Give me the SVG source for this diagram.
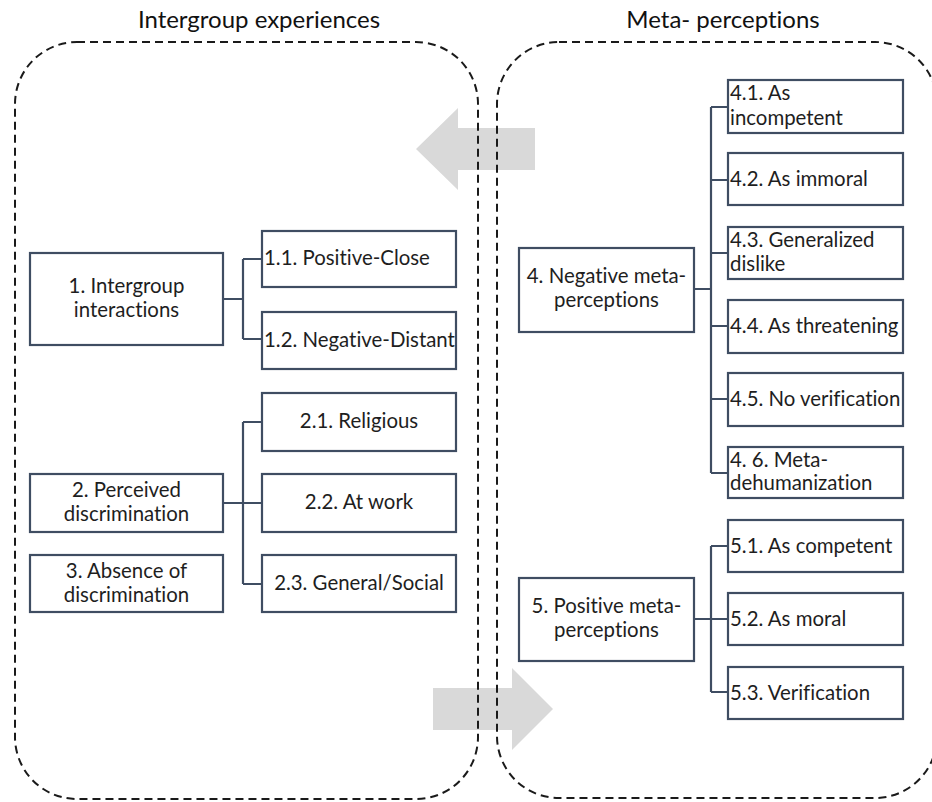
<svg xmlns="http://www.w3.org/2000/svg" width="932" height="802" viewBox="0 0 932 802">
<style>
.bg{fill:#ffffff}
.arrow{fill:#d9d9d9}
.frame{fill:none;stroke:#1a1a1a;stroke-width:2;stroke-dasharray:8 5}
.box{fill:#ffffff;stroke:#3f4d62;stroke-width:2.2}
.conn{fill:none;stroke:#3f4d62;stroke-width:2.2}
.t{font-family:Lato,"Liberation Sans",sans-serif;font-size:20.4px;fill:#1e1e1e;font-variant-ligatures:none}
.c{text-anchor:middle}
.title{font-family:Lato,"Liberation Sans",sans-serif;font-size:24px;fill:#111;text-anchor:middle;font-variant-ligatures:none}
</style>
<rect class="bg" x="0" y="0" width="932" height="802"/>
<g id="arrows">
<polygon class="arrow" points="535,128 458,128 458,108 416,149 458,190 458,170 535,170"/>
<polygon class="arrow" points="433,688 512,688 512,668 553,709 512,750 512,730 433,730"/>
</g>
<g id="frames">
<rect class="frame" x="15" y="42" width="463" height="757" rx="62" ry="62"/>
<rect class="frame" x="497" y="42" width="440" height="756" rx="62" ry="62"/>
<text class="title" x="259" y="28">Intergroup experiences</text>
<text class="title" x="723" y="28">Meta- perceptions</text>
</g>
<g id="connectors">
<path class="conn" d="M223,299 H243 M243,259 V339 M243,259 H262 M243,339 H262"/>
<path class="conn" d="M223,503 H262 M243,422 V584 M243,422 H262 M243,584 H262"/>
<path class="conn" d="M694,289 H711 M711,107 V473 M711,107 H728 M711,180 H728 M711,253 H728 M711,326 H728 M711,399 H728 M711,473 H728"/>
<path class="conn" d="M694,619 H711 M711,546 V692 M711,546 H728 M711,619 H728 M711,692 H728"/>
</g>
<g id="n1"><rect class="box" x="30" y="253" width="193" height="92"/><text class="t c" x="126.5" y="293">1. Intergroup</text><text class="t c" x="126.5" y="317">interactions</text></g>
<g id="n1_1"><rect class="box" x="262" y="231" width="194" height="56"/><text class="t" x="264" y="265">1.1. Positive-Close</text></g>
<g id="n1_2"><rect class="box" x="262" y="312" width="194" height="57"/><text class="t" x="264" y="347">1.2. Negative-Distant</text></g>
<g id="n2"><rect class="box" x="30" y="474" width="193" height="58"/><text class="t c" x="126.5" y="497">2. Perceived</text><text class="t c" x="126.5" y="521">discrimination</text></g>
<g id="n3"><rect class="box" x="30" y="555" width="193" height="57"/><text class="t c" x="126.5" y="578">3. Absence of</text><text class="t c" x="126.5" y="602">discrimination</text></g>
<g id="n2_1"><rect class="box" x="262" y="393" width="194" height="58"/><text class="t c" x="359" y="428">2.1. Religious</text></g>
<g id="n2_2"><rect class="box" x="262" y="474" width="194" height="58"/><text class="t c" x="359" y="509">2.2. At work</text></g>
<g id="n2_3"><rect class="box" x="262" y="555" width="194" height="57"/><text class="t c" x="359" y="590">2.3. General/Social</text></g>
<g id="n4"><rect class="box" x="519" y="248" width="175" height="84"/><text class="t c" x="606.5" y="283">4. Negative meta-</text><text class="t c" x="606.5" y="307">perceptions</text></g>
<g id="n4_1"><rect class="box" x="728" y="80" width="175" height="53"/><text class="t" x="730" y="100">4.1. As</text><text class="t" x="730" y="125">incompetent</text></g>
<g id="n4_2"><rect class="box" x="728" y="153" width="175" height="52"/><text class="t" x="730" y="186">4.2. As immoral</text></g>
<g id="n4_3"><rect class="box" x="728" y="227" width="175" height="52"/><text class="t" x="730" y="247">4.3. Generalized</text><text class="t" x="730" y="271">dislike</text></g>
<g id="n4_4"><rect class="box" x="728" y="300" width="175" height="53"/><text class="t" x="730" y="333">4.4. As threatening</text></g>
<g id="n4_5"><rect class="box" x="728" y="373" width="175" height="53"/><text class="t" x="730" y="406">4.5. No verification</text></g>
<g id="n4_6"><rect class="box" x="728" y="447" width="175" height="51"/><text class="t" x="730" y="467">4. 6. Meta-</text><text class="t" x="730" y="490">dehumanization</text></g>
<g id="n5"><rect class="box" x="519" y="578" width="175" height="83"/><text class="t c" x="606.5" y="613">5. Positive meta-</text><text class="t c" x="606.5" y="637">perceptions</text></g>
<g id="n5_1"><rect class="box" x="728" y="520" width="175" height="52"/><text class="t" x="730" y="553">5.1. As competent</text></g>
<g id="n5_2"><rect class="box" x="728" y="593" width="175" height="52"/><text class="t" x="730" y="626">5.2. As moral</text></g>
<g id="n5_3"><rect class="box" x="728" y="667" width="175" height="52"/><text class="t" x="730" y="700">5.3. Verification</text></g>
</svg>
